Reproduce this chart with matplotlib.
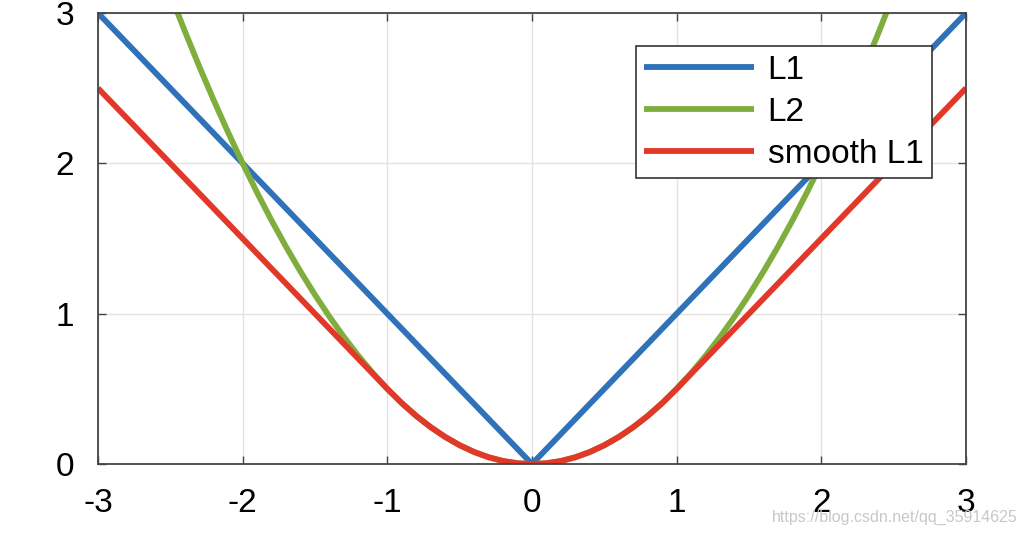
import matplotlib.pyplot as plt

# values
x_l1 = [-3.0, 0.0, 3.0]
y_l1 = [3.0, 0.0, 3.0]

x_l2 = [-2.5, -2.4, -2.3, -2.2, -2.1, -2.0, -1.9, -1.8, -1.7, -1.6, -1.5, -1.4, -1.3, -1.2, -1.1,
        -1.0, -0.9, -0.8, -0.7, -0.6, -0.5, -0.4, -0.3, -0.2, -0.1, 0.0,
        0.1, 0.2, 0.3, 0.4, 0.5, 0.6, 0.7, 0.8, 0.9, 1.0,
        1.1, 1.2, 1.3, 1.4, 1.5, 1.6, 1.7, 1.8, 1.9, 2.0, 2.1, 2.2, 2.3, 2.4, 2.5]
y_l2 = [3.125, 2.88, 2.645, 2.42, 2.205, 2.0, 1.805, 1.62, 1.445, 1.28, 1.125, 0.98, 0.845, 0.72, 0.605,
        0.5, 0.405, 0.32, 0.245, 0.18, 0.125, 0.08, 0.045, 0.02, 0.005, 0.0,
        0.005, 0.02, 0.045, 0.08, 0.125, 0.18, 0.245, 0.32, 0.405, 0.5,
        0.605, 0.72, 0.845, 0.98, 1.125, 1.28, 1.445, 1.62, 1.805, 2.0, 2.205, 2.42, 2.645, 2.88, 3.125]

x_sl1 = [-3.0, -1.0, -0.9, -0.8, -0.7, -0.6, -0.5, -0.4, -0.3, -0.2, -0.1, 0.0,
         0.1, 0.2, 0.3, 0.4, 0.5, 0.6, 0.7, 0.8, 0.9, 1.0, 3.0]
y_sl1 = [2.5, 0.5, 0.405, 0.32, 0.245, 0.18, 0.125, 0.08, 0.045, 0.02, 0.005, 0.0,
         0.005, 0.02, 0.045, 0.08, 0.125, 0.18, 0.245, 0.32, 0.405, 0.5, 2.5]

x_ticks = [-3, -2, -1, 0, 1, 2, 3]
y_ticks = [0, 1, 2, 3]

plt.rcParams['font.family'] = ['Liberation Sans', 'DejaVu Sans']
plt.rcParams['axes.unicode_minus'] = False

fig = plt.figure(figsize=(10.27, 5.36), dpi=100)
ax = fig.add_axes([0.0954, 0.1343, 0.8452, 0.8414])

ax.plot(x_l1, y_l1, color='#2F72BA', lw=4.2, label='L1', solid_capstyle='butt')
ax.plot(x_l2, y_l2, color='#7FAE3F', lw=4.2, label='L2', solid_capstyle='butt')
ax.plot(x_sl1, y_sl1, color='#E2382A', lw=4.2, label='smooth L1', solid_capstyle='butt')

ax.set_xlim(-3, 3)
ax.set_ylim(0, 3)
ax.set_xticks(x_ticks)
ax.set_yticks(y_ticks)
ax.grid(True, color='#E3E3E3', lw=1)
ax.set_axisbelow(True)
ax.tick_params(direction='in', top=True, right=True, length=6, width=1, color='#444444',
               labelsize=24, pad=17)
for s in ax.spines.values():
    s.set_color('#444444')
    s.set_linewidth(1.3)

leg = ax.legend(loc='upper right', bbox_to_anchor=(0.9605, 0.926), fontsize=24, fancybox=False,
                framealpha=1, edgecolor='#333333', handlelength=3.3, handletextpad=0.4,
                borderpad=0.25, labelspacing=0.33, borderaxespad=0)
leg.get_frame().set_linewidth(1.2)

fig.text(0.991, 0.035, 'https://blog.csdn.net/qq_35914625', ha='right', va='center',
         fontsize=11.5, color='#C8C8C8')

plt.savefig('out.png', dpi=100)
